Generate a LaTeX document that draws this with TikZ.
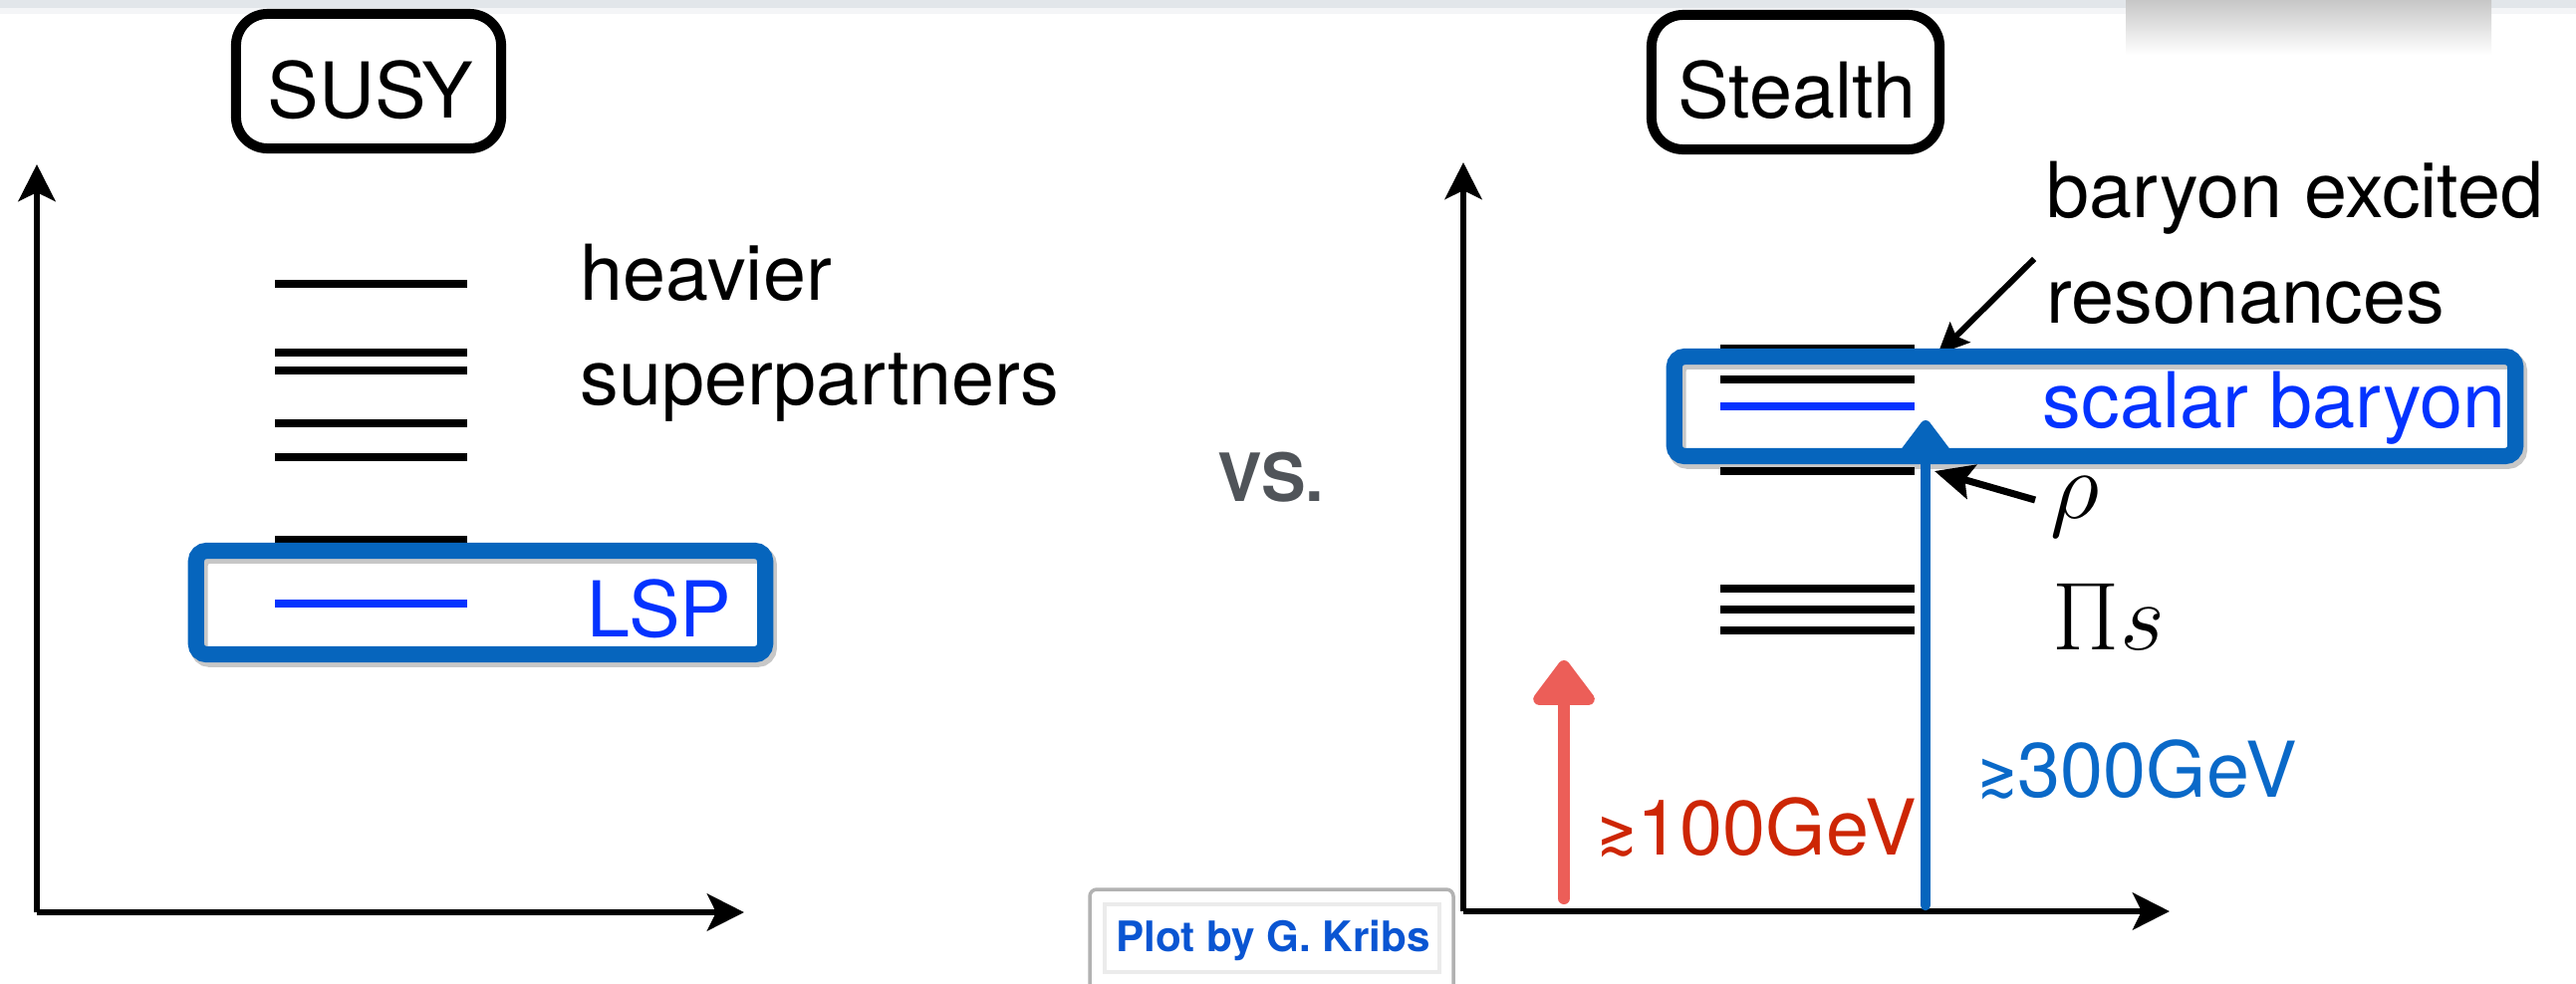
\RequirePackage{fix-cm}
\documentclass[tikz,border=0pt]{standalone}
\usepackage{fontspec}
\setmainfont{TeX Gyre Heros}
\newfontfamily\symfnt{DejaVu Sans}
\usetikzlibrary{arrows.meta}
\definecolor{boxblue}{RGB}{6,101,189}
\definecolor{lineblue}{RGB}{4,51,255}
\definecolor{gevblue}{RGB}{10,105,200}
\definecolor{arrowred}{RGB}{236,94,88}
\definecolor{gevred}{RGB}{205,38,5}
\definecolor{vsgray}{RGB}{80,84,89}
\definecolor{plotblue}{RGB}{10,85,210}
\definecolor{bargray}{RGB}{226,230,234}
\newcommand{\gsim}{\scalebox{0.62}[0.85]{\symfnt ≳}}
\begin{document}
\begin{tikzpicture}[x=0.01cm,y=-0.01cm,
  lbl/.style={anchor=base west, inner sep=0pt, font=\fontsize{22}{26}\selectfont},
  mathlbl/.style={anchor=base west, inner sep=0pt, font=\fontsize{27.6}{30}\selectfont},
  level/.style={line width=2.3pt},
  axisarrow/.style={line width=1.9pt, -{Stealth[length=10.5pt,width=10.5pt,inset=2.5pt]}},
  titlebox/.style={draw=black, line width=2.85pt, rounded corners=9pt, inner sep=0pt},
  bluebox/.style={draw=boxblue, line width=4.6pt, rounded corners=3pt, inner sep=0pt},
  boxshadow/.style={draw=black, draw opacity=.22, line width=5pt, rounded corners=3pt, inner sep=0pt},
  ptr/.style={line width=1.7pt, -{Stealth[length=9pt,width=8pt,inset=1.5pt]}},
  ptrb/.style={line width=2pt, -{Stealth[length=11pt,width=10pt,inset=2pt]}},
]
\useasboundingbox (0,0) rectangle (2586,987);
\fill[white] (0,0) rectangle (2586,987);

% ---------- top bar and picture fragment ----------
\fill[bargray] (0,0) rectangle (2586,8);
\fill[bargray!40] (0,8) rectangle (2586,14);
\shade[top color=black!22, bottom color=white] (2134,0) rectangle (2501,55);

% ---------- left panel (SUSY) ----------
\node[titlebox, minimum width=2.66cm, minimum height=1.35cm] (susybox) at (370,81.5) {};
\node[lbl, anchor=base] (susy) at (372,118) {SUSY};

\coordinate (O1) at (37,916);
\coordinate (Y1) at (37,165);
\coordinate (X1) at (747,916);
\draw[axisarrow] (O1) -- (Y1);
\draw[axisarrow] (O1) -- (X1);

\foreach \y in {285,354,372,425,459,542} \draw[level] (276,\y) -- (469,\y);
\draw[level, lineblue] (276,606) -- (469,606);

\node[lbl] (heavier) at (582,301) {heavier};
\node[lbl] (superp) at (582,406) {superpartners};

\node[boxshadow, minimum width=5.71cm, minimum height=1.04cm] (lspsh) at (485.5,609) {};
\node[bluebox, minimum width=5.71cm, minimum height=1.04cm] (lspbox) at (482.5,605) {};
\node[lbl, text=lineblue] (lsp) at (589,639) {LSP};

% ---------- middle ----------
\node[anchor=base west, inner sep=0pt, font=\fontsize{19}{22}\selectfont\bfseries, text=vsgray] (vs) at (1222,503) {VS.};

\draw[black!30, line width=1pt, rounded corners=2pt] (1094,893) rectangle (1459,1010);
\draw[black!8, line width=1.2pt] (1109,908) rectangle (1445,976);
\node[anchor=base, inner sep=0pt, font=\fontsize{12}{14}\selectfont\bfseries, text=plotblue] (plotby) at (1278,955) {Plot by G. Kribs};

% ---------- right panel (Stealth) ----------
\node[titlebox, minimum width=2.89cm, minimum height=1.35cm] (stealthbox) at (1802.5,82.5) {};
\node[lbl, anchor=base] (stealth) at (1804,118) {Stealth};

\coordinate (O2) at (1469,915);
\coordinate (Y2) at (1469,163);
\coordinate (X2) at (2178,915);
\draw[axisarrow] (O2) -- (Y2);
\draw[axisarrow] (O2) -- (X2);

\foreach \y in {350,381,473,591,612,633} \draw[level] (1727,\y) -- (1922,\y);
\draw[level, lineblue] (1727,408) -- (1922,408);

\node[lbl] (baryonex) at (2054,218) {baryon excited};
\node[lbl] (reson) at (2054,324) {resonances};

\coordinate (resTail) at (2042,260);
\coordinate (resTip) at (1945,356);
\draw[ptr] (resTail) -- (resTip);

\node[boxshadow, minimum width=8.44cm, minimum height=1.0cm] (scalsh) at (2106,412) {};
\node[bluebox, minimum width=8.44cm, minimum height=1.0cm] (scalbox) at (2103,408) {};
\node[lbl, text=lineblue] (scalar) at (2050,429) {scalar baryon};

\node[mathlbl] (rho) at (2058,520) {$\rho$};
\node[mathlbl] (pis) at (2060,652) {$\Pi s$};

\coordinate (rhoTail) at (2043,502);
\coordinate (rhoTip) at (1942,473);
\draw[ptrb] (rhoTail) -- (rhoTip);

\coordinate (bBot) at (1933,909);
\coordinate (bTop) at (1933,422);
\draw[boxblue, line width=3pt, line cap=round, -{Triangle[length=13.5pt,width=19.4pt,round]}] (bBot) -- (bTop);

\coordinate (rBot) at (1570,902);
\coordinate (rTop) at (1570,663);
\draw[arrowred, line width=3.4pt, line cap=round, -{Triangle[length=14pt,width=20pt,round]}] (rBot) -- (rTop);

\node[lbl, text=gevred] (gev100) at (1603,858) {\gsim100GeV};
\node[lbl, text=gevblue] (gev300) at (1985,800) {\gsim300GeV};
\end{tikzpicture}
\end{document}
